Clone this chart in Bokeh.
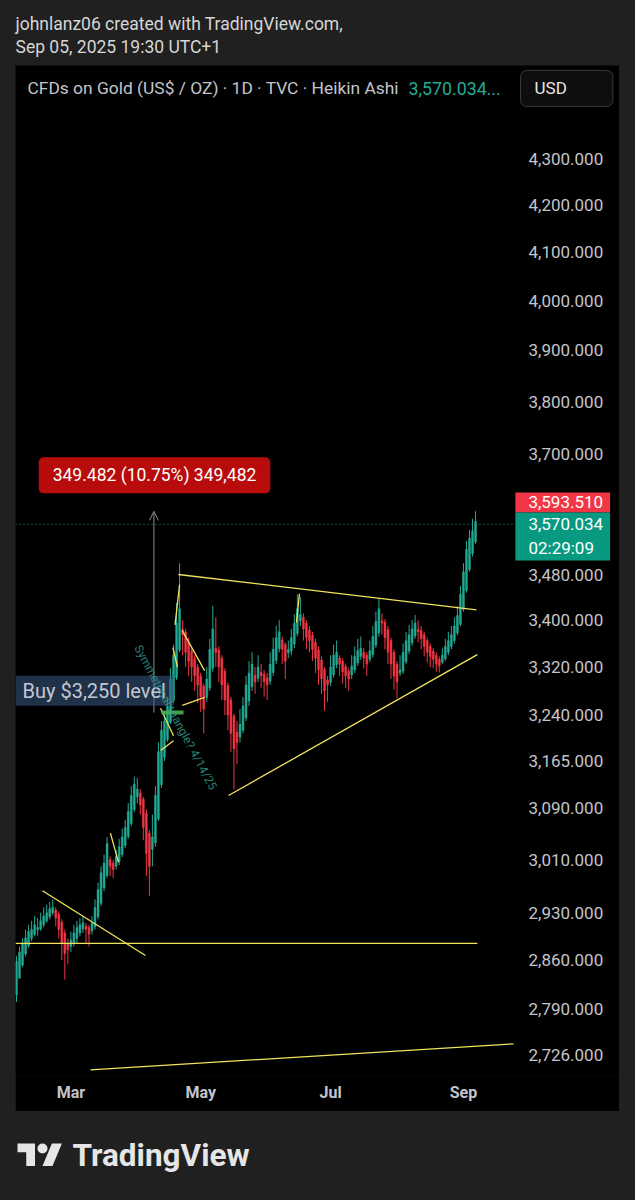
import pandas as pd
from bokeh.plotting import figure
from bokeh.models import (Range1d, FixedTicker, NumeralTickFormatter, Label,
                          Arrow, OpenHead, Spacer, ColumnDataSource)
from bokeh.layouts import column, row
from bokeh.core.properties import value
from bokeh.embed import file_html
from bokeh.resources import INLINE

# ---------------- data ----------------
dates = pd.bdate_range("2025-02-05", "2025-09-05")

ha_open = [2810, 2834, 2853, 2869, 2881, 2892, 2898, 2905, 2906, 2912,
           2918, 2924, 2930, 2934, 2928, 2916, 2900, 2885, 2880, 2885,
           2892, 2900, 2906, 2910, 2908, 2903, 2909, 2924, 2944, 2967,
           2986, 3010, 3005, 3000, 3007, 3018, 3032, 3046, 3066, 3088,
           3108, 3114, 3104, 3082, 3051, 3026, 3036, 3073, 3127, 3171,
           3200, 3228, 3264, 3302, 3349, 3385, 3380, 3363, 3347, 3334,
           3320, 3305, 3288, 3269, 3285, 3318, 3352, 3349, 3335, 3313,
           3289, 3265, 3238, 3212, 3204, 3215, 3235, 3263, 3287, 3306,
           3301, 3311, 3308, 3302, 3296, 3311, 3331, 3351, 3366, 3358,
           3344, 3347, 3359, 3377, 3399, 3405, 3395, 3383, 3374, 3362,
           3349, 3332, 3316, 3298, 3294, 3307, 3324, 3335, 3330, 3321,
           3313, 3307, 3315, 3327, 3338, 3345, 3340, 3333, 3341, 3357,
           3378, 3399, 3397, 3384, 3365, 3345, 3325, 3310, 3313, 3329,
           3347, 3361, 3373, 3384, 3382, 3375, 3365, 3355, 3347, 3340,
           3333, 3328, 3334, 3345, 3355, 3365, 3378, 3393, 3419, 3452,
           3489, 3517, 3538]
ha_close = [2858, 2872, 2885, 2893, 2902, 2905, 2912, 2908, 2918, 2925,
            2930, 2936, 2938, 2922, 2905, 2885, 2870, 2875, 2890, 2900,
            2908, 2912, 2915, 2905, 2898, 2915, 2938, 2965, 2990, 3005,
            3035, 3000, 2995, 3015, 3030, 3045, 3060, 3085, 3110, 3128,
            3120, 3095, 3060, 3020, 3000, 3045, 3110, 3180, 3215, 3230,
            3255, 3300, 3340, 3395, 3420, 3375, 3345, 3330, 3320, 3305,
            3290, 3270, 3250, 3300, 3350, 3385, 3345, 3320, 3290, 3265,
            3240, 3210, 3185, 3195, 3225, 3255, 3290, 3310, 3325, 3295,
            3320, 3305, 3295, 3290, 3325, 3350, 3370, 3380, 3350, 3330,
            3350, 3370, 3395, 3420, 3410, 3385, 3370, 3365, 3350, 3335,
            3315, 3300, 3280, 3290, 3320, 3340, 3345, 3325, 3312, 3305,
            3300, 3322, 3338, 3348, 3352, 3335, 3325, 3348, 3372, 3398,
            3420, 3395, 3370, 3345, 3325, 3305, 3295, 3315, 3345, 3365,
            3375, 3385, 3395, 3380, 3368, 3355, 3345, 3338, 3333, 3325,
            3322, 3340, 3355, 3365, 3375, 3390, 3408, 3445, 3485, 3525,
            3545, 3558, 3575]
ha_high = [2866, 2880, 2892, 2905, 2912, 2918, 2925, 2922, 2930, 2938,
           2942, 2946, 2950, 2938, 2932, 2920, 2905, 2892, 2902, 2912,
           2918, 2922, 2925, 2915, 2912, 2925, 2950, 2975, 3000, 3018,
           3045, 3015, 3010, 3025, 3042, 3058, 3072, 3098, 3125, 3140,
           3138, 3120, 3108, 3088, 3056, 3080, 3125, 3195, 3230, 3245,
           3268, 3318, 3358, 3430, 3500, 3400, 3385, 3370, 3352, 3340,
           3325, 3310, 3292, 3320, 3368, 3425, 3405, 3355, 3340, 3318,
           3294, 3270, 3242, 3230, 3250, 3270, 3305, 3330, 3345, 3320,
           3340, 3325, 3315, 3310, 3345, 3370, 3390, 3400, 3372, 3362,
           3365, 3385, 3410, 3445, 3440, 3412, 3400, 3390, 3380, 3368,
           3355, 3338, 3320, 3305, 3340, 3358, 3365, 3340, 3335, 3326,
           3318, 3340, 3355, 3368, 3372, 3352, 3345, 3365, 3390, 3415,
           3439, 3412, 3402, 3390, 3370, 3350, 3330, 3340, 3360, 3380,
           3392, 3400, 3409, 3400, 3390, 3380, 3370, 3360, 3352, 3345,
           3338, 3352, 3368, 3380, 3390, 3405, 3425, 3460, 3500, 3540,
           3560, 3580, 3594]
ha_low = [2800, 2834, 2850, 2866, 2878, 2888, 2895, 2896, 2903, 2908,
          2915, 2920, 2926, 2910, 2892, 2860, 2832, 2855, 2872, 2880,
          2885, 2895, 2900, 2885, 2880, 2898, 2905, 2920, 2940, 2962,
          2982, 2985, 2982, 2995, 3002, 3014, 3028, 3042, 3062, 3084,
          3098, 3080, 3040, 2985, 2955, 3000, 3030, 3070, 3122, 3165,
          3196, 3225, 3260, 3298, 3345, 3340, 3320, 3305, 3295, 3280,
          3260, 3245, 3210, 3262, 3280, 3312, 3320, 3295, 3265, 3240,
          3215, 3180, 3120, 3160, 3195, 3210, 3230, 3255, 3280, 3275,
          3295, 3285, 3270, 3265, 3290, 3305, 3325, 3345, 3325, 3300,
          3335, 3340, 3352, 3372, 3390, 3365, 3350, 3345, 3330, 3310,
          3290, 3275, 3247, 3262, 3288, 3302, 3318, 3305, 3292, 3285,
          3280, 3300, 3310, 3322, 3332, 3318, 3305, 3328, 3336, 3352,
          3372, 3375, 3350, 3325, 3300, 3282, 3268, 3305, 3308, 3325,
          3342, 3356, 3368, 3362, 3350, 3338, 3328, 3320, 3318, 3312,
          3311, 3325, 3330, 3340, 3350, 3360, 3374, 3390, 3415, 3448,
          3485, 3512, 3534]

price_ticks = [2726, 2790, 2860, 2930, 3010, 3090, 3165, 3240, 3320, 3400,
               3480, 3700, 3800, 3900, 4000, 4100, 4200, 4300]
month_labels = ["Mar", "May", "Jul", "Sep"]
month_starts = ["2025-03-03", "2025-05-01", "2025-07-01", "2025-09-01"]

last_price = 3570.034
countdown = "02:29:09"
measure_high = 3593.510
measure_change = 349.482
measure_pct = 10.75

# drawn trend lines (bar index, price)
line_x0 = [-0.33, 8.6, 24.5, 53.6, 70.2, 31.1, 54.0, 51.8, 54.9, 54.9, 47.7, 47.7, 92.7]
line_y0 = [2884.6, 2963, 2705, 3480, 3110, 3051, 3462, 3353, 3382, 3256, 3251, 3182, 3396]
line_x1 = [152.6, 42.7, 164.6, 152.3, 152.6, 33.8, 52.5, 53.3, 62.3, 62.3, 52.0, 52.0, 93.7]
line_y1 = [2884.6, 2867, 2741, 3418, 3341, 3006, 3392, 3320, 3314, 3269, 3206, 3198, 3446]

credit_lines = ["johnlanz06 created with TradingView.com,", "Sep 05, 2025 19:30 UTC+1"]

# ---------------- style ----------------
UP = "#22ab94"
DOWN = "#f23645"
YELLOW = "#f2e35c"
AXIS_TXT = "#c3c5cb"
PAGE_BG = "#202020"
FONT = "Roboto"
PANE_RIGHT = 166.2   # right edge of the candle pane (bar units)

n = len(ha_close)
tick_idx = [list(dates.strftime("%Y-%m-%d")).index(d) for d in month_starts]

src = ColumnDataSource(dict(
    x=list(range(n)), o=ha_open, h=ha_high, l=ha_low, c=ha_close,
    top=[max(a, b) for a, b in zip(ha_open, ha_close)],
    bottom=[min(a, b) for a, b in zip(ha_open, ha_close)],
    color=[UP if c >= o else DOWN for o, c in zip(ha_open, ha_close)],
))

# ---------------- main chart panel ----------------
p = figure(width=604, height=1046, x_range=Range1d(-0.33, 199.67),
           y_range=Range1d(2697.2, 4508.3), y_axis_type="log",
           y_axis_location="right", output_backend="svg", toolbar_location=None,
           min_border_left=0, min_border_top=0, min_border_right=0,
           min_border_bottom=36, background_fill_color="#000000",
           border_fill_color="#000000", outline_line_color=None)
p.xgrid.visible = False
p.ygrid.visible = False

yax = p.yaxis[0]
yax.ticker = FixedTicker(ticks=price_ticks, minor_ticks=[])
yax.formatter = NumeralTickFormatter(format="0,0.000")
yax.axis_line_color = None
yax.major_tick_line_color = None
yax.minor_tick_line_color = None
yax.major_label_text_color = AXIS_TXT
yax.major_label_text_font = FONT
yax.major_label_text_font_size = "17px"
yax.major_label_standoff = -97

xax = p.xaxis[0]
xax.ticker = FixedTicker(ticks=tick_idx, minor_ticks=[])
xax.major_label_overrides = {i: lab for i, lab in zip(tick_idx, month_labels)}
xax.axis_line_color = None
xax.major_tick_line_color = None
xax.minor_tick_line_color = None
xax.major_label_text_color = AXIS_TXT
xax.major_label_text_font = FONT
xax.major_label_text_font_size = "16px"
xax.major_label_text_font_style = "bold"
xax.major_label_standoff = 1

# candles
p.segment(x0="x", y0="l", x1="x", y1="h", line_color="color", line_width=1, source=src)
p.vbar(x="x", width=0.62, top="top", bottom="bottom", fill_color="color",
       line_color="color", line_width=0.5, source=src)

# last price dotted line across the pane
p.segment(x0=[-0.33], y0=[last_price], x1=[PANE_RIGHT], y1=[last_price],
          line_color="#26a69a", line_dash="1 3", line_width=1)

# trend lines
p.segment(x0=line_x0, y0=line_y0, x1=line_x1, y1=line_y1, line_color=YELLOW, line_width=1.3)

# measure tool
measure_x = 45.5
measure_low = measure_high - measure_change
p.segment(x0=[48.0], y0=[measure_low], x1=[55.3], y1=[measure_low],
          line_color="#4caf50", line_width=4, line_alpha=0.9)
p.add_layout(Arrow(end=OpenHead(size=9, line_color="#8a8d96", line_width=1),
                   x_start=measure_x, y_start=measure_low, x_end=measure_x,
                   y_end=measure_high, line_color="#8a8d96", line_width=1))

p.add_layout(Label(x=45.7, y=3660,
                   text=f"{measure_change:.3f} ({measure_pct:.2f}%) {int(round(measure_change * 1000)):,}",
                   text_align="center", text_baseline="middle", text_color="#ffffff",
                   text_font=FONT, text_font_size="17.5px",
                   background_fill_color="#b80c0c", border_radius=5,
                   padding=dict(left=14, right=14, top=8, bottom=8)))

p.add_layout(Label(x=-0.33, y=3280, text="Buy $3,250 level", text_baseline="middle",
                   text_color="#c4c7d0", text_font=FONT, text_font_size="20px",
                   background_fill_color="#3a5b85", background_fill_alpha=0.55,
                   padding=dict(left=7, right=8, top=3, bottom=3)))

p.add_layout(Label(x=40.1, y=3356, text="Symmetrical triangle? 4/14/25", angle=-62,
                   angle_units="deg", text_baseline="middle", text_color="#2f9c8c",
                   text_alpha=0.85, text_font=FONT, text_font_size="12px"))

# price scale labels
p.add_layout(Label(x=165.2, y=3610, text=f"{measure_high:,.3f}", text_baseline="middle",
                   text_color="#ffffff", text_font=FONT, text_font_size="17px",
                   background_fill_color=DOWN,
                   padding=dict(left=13, right=7, top=4, bottom=4)))
p.add_layout(Label(x=165.2, y=3548, text=f"{last_price:,.3f}\n{countdown}", text_baseline="middle",
                   text_color="#ffffff", text_font=FONT, text_font_size="17px",
                   background_fill_color="#089981",
                   padding=dict(left=13, right=7, top=2, bottom=2)))

# legend line
p.add_layout(Label(x=3.64, y=4456, text="CFDs on Gold (US$ / OZ) · 1D · TVC · Heikin Ashi",
                   text_baseline="middle", text_color=AXIS_TXT, text_font=FONT,
                   text_font_size="17.4px"))
p.add_layout(Label(x=129.8, y=4456, text=f"{last_price:,.3f}...", text_baseline="middle",
                   text_color=UP, text_font=FONT, text_font_size="17.8px"))
p.add_layout(Label(x=166.9, y=4456, text="USD", text_baseline="middle",
                   text_color="#e6e6e6", text_font=FONT, text_font_size="17px",
                   background_fill_color="#0e0e0e", border_line_color="#3a3a3a",
                   border_radius=6, padding=dict(left=14, right=46, top=8, bottom=8)))

# ---------------- header / footer strips ----------------
def strip(h):
    f = figure(width=635, height=h, x_range=Range1d(0, 635), y_range=Range1d(h, 0),
               x_axis_location=None, y_axis_location=None, output_backend="svg",
               toolbar_location=None, min_border=0, background_fill_color=PAGE_BG,
               border_fill_color=PAGE_BG, outline_line_color=None)
    f.grid.visible = False
    return f

hdr = strip(65)
hdr.text(x=[15, 15], y=[23, 46], text=credit_lines, text_baseline="middle",
         text_font=value(FONT), text_font_size="17.5px", text_color="#d6d6d6")

ftr = strip(89)
LOGO = "#e6e6e6"
ftr.patch(x=[17, 34.5, 34.5, 25.75, 25.75, 17], y=[32, 32, 54.5, 54.5, 40.75, 40.75],
          fill_color=LOGO, line_color=None)
ftr.scatter(x=[42], y=[37], size=10, fill_color=LOGO, line_color=None)
ftr.patch(x=[42, 51.4, 61.4, 52], y=[54.5, 32, 32, 54.5], fill_color=LOGO, line_color=None)
ftr.text(x=[72], y=[44], text=["TradingView"], text_baseline="middle",
         text_font=value(FONT), text_font_size="31.5px", text_font_style="bold",
         text_color=LOGO)

layout = column(hdr,
                row(Spacer(width=15, height=1046), p, Spacer(width=16, height=1046)),
                ftr, width=635, height=1200,
                styles={"background-color": PAGE_BG, "position": "absolute",
                        "left": "0px", "top": "0px"})

open("out.html", "w").write(file_html(layout, INLINE))
